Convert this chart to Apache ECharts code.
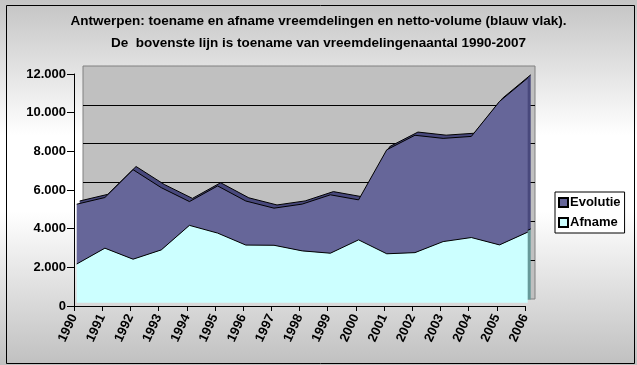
<!DOCTYPE html>
<html>
<head>
<meta charset="utf-8">
<script src="https://cdn.jsdelivr.net/npm/echarts@6/dist/echarts.min.js"></script>
<style>
html,body{margin:0;padding:0;}
#chart{width:637px;height:365px;}
</style>
</head>
<body>
<div id="chart"></div>
<script>
var years = ['1990','1991','1992','1993','1994','1995','1996','1997','1998','1999','2000','2001','2002','2003','2004','2005','2006'];
var afname = [2000, 2820, 2250, 2730, 4000, 3600, 2980, 2970, 2680, 2560, 3250, 2530, 2590, 3160, 3370, 2990, 3650];
var evolutie = [3095, 2620, 4630, 3220, 1230, 2440, 2280, 1920, 2420, 3020, 2070, 5380, 6070, 5340, 5230, 7420, 7970];
var yTicks = {min: 0, max: 12000, interval: 2000};
var titleLines = ['Antwerpen: toename en afname vreemdelingen en netto-volume (blauw vlak).',
                  'De  bovenste lijn is toename van vreemdelingenaantal 1990-2007'];

var FONT = 'Liberation Sans, Arial, sans-serif';
function fmt(v){ return String(v).replace(/\B(?=(\d{3})+(?!\d))/g, '.'); }

var chart = echarts.init(document.getElementById('chart'), null, {renderer:'canvas'});

function hiddenX(g){ return {type:'category', data:years, boundaryGap:false, gridIndex:g, show:false}; }
function hiddenY(g){ return {type:'value', min:yTicks.min, max:yTicks.max, interval:yTicks.interval, gridIndex:g, show:false}; }

var option = {
  animation:false,
  backgroundColor: new echarts.graphic.LinearGradient(0,0,0,1,[
    {offset:0, color:'#c4c4c4'},
    {offset:0.37, color:'#ffffff'},
    {offset:0.58, color:'#ffffff'},
    {offset:1, color:'#c0c0c0'}
  ]),
  title:{
    text: titleLines.join('\n'),
    left:'center', top:5,
    textStyle:{fontFamily:FONT, fontSize:13.5, fontWeight:'bold', color:'#000', lineHeight:22}
  },
  legend:{
    orient:'vertical',
    left:555, top:192,
    data:['Evolutie','Afname'],
    backgroundColor:'#ffffff',
    borderColor:'#000', borderWidth:1, borderRadius:0,
    padding:[4,4,4,3],
    itemWidth:9, itemHeight:9, itemGap:7,
    icon:'rect',
    textStyle:{fontFamily:FONT, fontSize:13, fontWeight:'bold', color:'#000', padding:[0,0,0,-3]}
  },
  grid:[
    {left:74, right:112, top:74, bottom:59, show:false},
    {left:83, right:102, top:66, bottom:66, show:true, backgroundColor:'#c0c0c0', borderColor:'#808080', borderWidth:1},
    {left:79.7, right:106.3, top:67.5, bottom:65.5, show:false},
    {left:76.7, right:109.3, top:70.7, bottom:62.3, show:false}
  ],
  xAxis:[
    {type:'category', data:years, boundaryGap:false, gridIndex:0,
     axisLine:{show:true, lineStyle:{color:'#000', width:1}},
     axisTick:{show:true, length:5, lineStyle:{color:'#000'}, alignWithLabel:true},
     axisLabel:{rotate:65, fontFamily:FONT, fontSize:13, fontWeight:'bold', color:'#000', margin:9, interval:0}},
    hiddenX(1), hiddenX(2), hiddenX(3)
  ],
  yAxis:[
    {type:'value', min:yTicks.min, max:yTicks.max, interval:yTicks.interval, gridIndex:0,
     axisLine:{show:true, lineStyle:{color:'#000', width:1}},
     axisTick:{show:true, length:7, lineStyle:{color:'#000'}},
     splitLine:{show:false},
     axisLabel:{formatter:fmt, fontFamily:FONT, fontSize:13, fontWeight:'bold', color:'#000', margin:8}},
    {type:'value', min:yTicks.min, max:yTicks.max, interval:yTicks.interval, gridIndex:1, z:1,
     axisLine:{show:false}, axisTick:{show:false}, axisLabel:{show:false},
     splitLine:{show:true, showMinLine:false, showMaxLine:false, lineStyle:{color:'#000', width:1}}},
    hiddenY(2), hiddenY(3)
  ],
  series:[
    {name:'Afname-diepte', type:'line', xAxisIndex:2, yAxisIndex:2, stack:'depth', data:afname,
     showSymbol:false, silent:true, z:3,
     lineStyle:{color:'#000', width:1}, itemStyle:{color:'#669999'},
     areaStyle:{color:'#669999', opacity:1}},
    {name:'Evolutie-diepte', type:'line', xAxisIndex:2, yAxisIndex:2, stack:'depth', data:evolutie,
     showSymbol:false, silent:true, z:3,
     lineStyle:{color:'#000', width:1}, itemStyle:{color:'#48487c'},
     areaStyle:{color:'#48487c', opacity:1}},
    {name:'Afname', type:'line', xAxisIndex:3, yAxisIndex:3, stack:'front', data:afname,
     showSymbol:false, z:4,
     lineStyle:{color:'#000', width:1}, itemStyle:{color:'#ccffff', borderColor:'#000', borderWidth:1},
     areaStyle:{color:'#ccffff', opacity:1}},
    {name:'Evolutie', type:'line', xAxisIndex:3, yAxisIndex:3, stack:'front', data:evolutie,
     showSymbol:false, z:4,
     lineStyle:{color:'#000', width:1}, itemStyle:{color:'#666699', borderColor:'#000', borderWidth:1},
     areaStyle:{color:'#666699', opacity:1}}
  ],
  graphic:[
    {type:'rect', left:4, top:3, shape:{width:628, height:358}, style:{fill:'none', stroke:'#000', lineWidth:1}, silent:true, z:100}
  ]
};
chart.setOption(option);
</script>
</body>
</html>
